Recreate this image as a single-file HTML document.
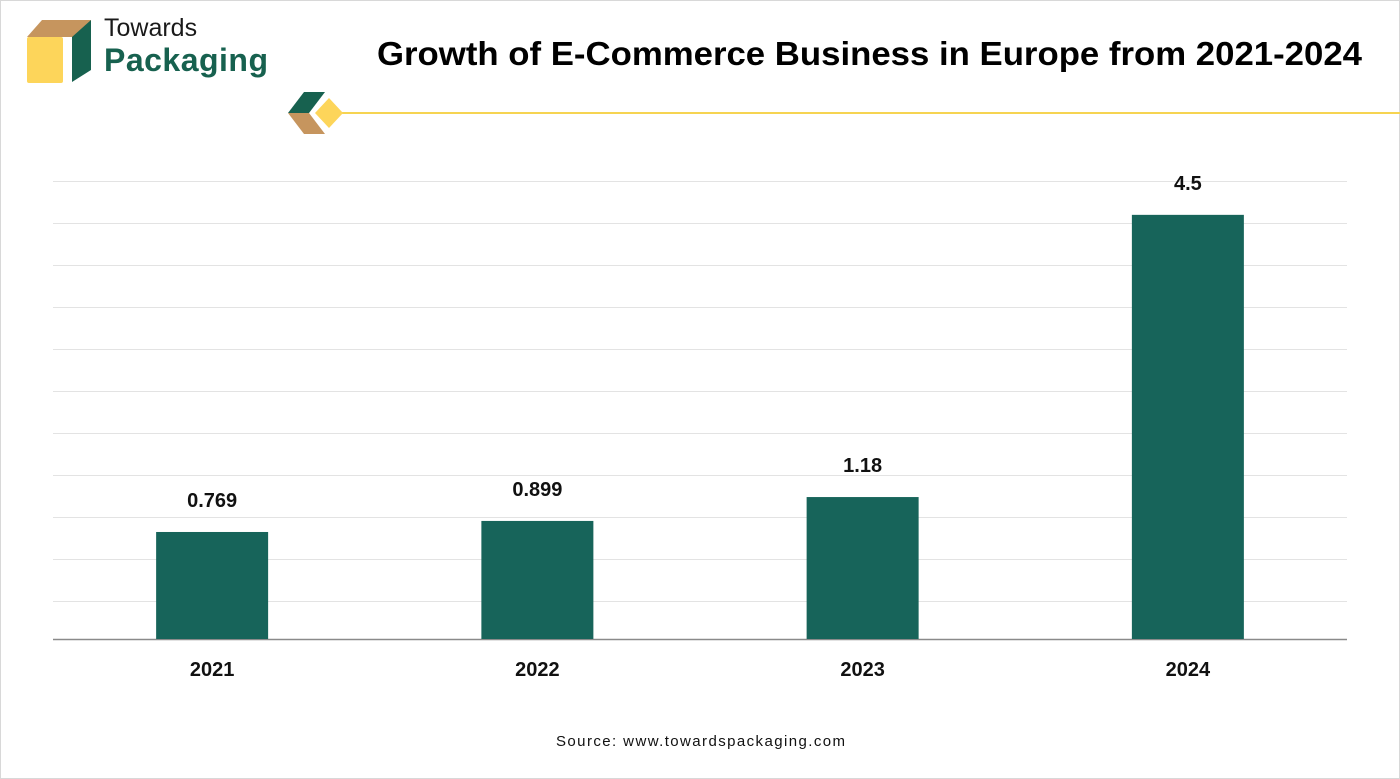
<!DOCTYPE html>
<html><head><meta charset="utf-8"><style>
body{margin:0;width:1400px;height:779px;background:#fff;overflow:hidden;font-family:"Liberation Sans",sans-serif}
#frame{position:absolute;left:0;top:0;width:1398px;height:777px;border:1px solid #d8d8d8}
</style></head><body>
<div id="frame"></div>
<svg width="1400" height="779" style="position:absolute;left:0;top:0" id="chart">
<g>
<polygon points="27,37 42,20 91,20 76,37" fill="#c6955e"/>
<rect x="27" y="37" width="36" height="46" fill="#fdd55a" rx="2"/>
<polygon points="72,37 91,20 91,70 72,82" fill="#17614f"/>
<text x="104" y="36" font-size="25" fill="#1a1a1a">Towards</text>
<text x="104" y="71" font-size="32" font-weight="bold" fill="#17614f" textLength="164">Packaging</text>
</g>
<text x="377" y="65" font-size="33" font-weight="bold" fill="#000" textLength="985" lengthAdjust="spacingAndGlyphs">Growth of E-Commerce Business in Europe from 2021-2024</text>
<g>
<line x1="340" y1="113" x2="1400" y2="113" stroke="#f6d451" stroke-width="2"/>
<polygon points="288,113 304,92 325,92 309,113" fill="#17614f"/>
<polygon points="288,113 309,113 325,134 304,134" fill="#c6955e"/>
<polygon points="315,113 329,98 343,113 329,128" fill="#fdd55a"/>
</g>
<g id="grid"></g><g id="bars"></g>
<text x="556" y="746" font-size="15" fill="#111" textLength="289">Source: www.towardspackaging.com</text>
</svg>
<script>
const categories=["2021","2022","2023","2024"];
const values=[0.769,0.899,1.18,4.5];
const labels=["0.769","0.899","1.18","4.5"];
const ns="http://www.w3.org/2000/svg";
const base=639,vmin=-0.49,ppu=85,x0=53,x1=1347,bx0=49.5,bx1=1350.5;
function y(v){return base-(v-vmin)*ppu;}
function mk(t,a,p){const e=document.createElementNS(ns,t);for(const k in a)e.setAttribute(k,a[k]);p.appendChild(e);return e;}
const grid=document.getElementById('grid'),bars=document.getElementById('bars');
for(let k=0;k<=10;k++){const yy=601-42*k+0.5;
const l=mk('line',{x1:x0,x2:x1,y1:yy,y2:yy,stroke:'#e3e3e3','stroke-width':1},grid);

}
const ax=mk('line',{x1:x0,x2:x1,y1:base+0.5,y2:base+0.5,stroke:'#8a8a8a','stroke-width':1.5},grid);


const bw=(bx1-bx0)/categories.length;
categories.forEach((c,i)=>{const cx=bx0+bw*(i+0.5),yt=y(values[i]);
const r=mk('rect',{x:cx-56,y:yt,width:112,height:base-yt,fill:'#17645a'},bars);


const t=mk('text',{x:cx,y:yt-25,'text-anchor':'middle','font-size':20,'font-weight':'bold',fill:'#111'},bars);t.textContent=labels[i];


const xl=mk('text',{x:cx,y:676,'text-anchor':'middle','font-size':20,'font-weight':'bold',fill:'#111'},bars);xl.textContent=c;

});
</script>
</body></html>
